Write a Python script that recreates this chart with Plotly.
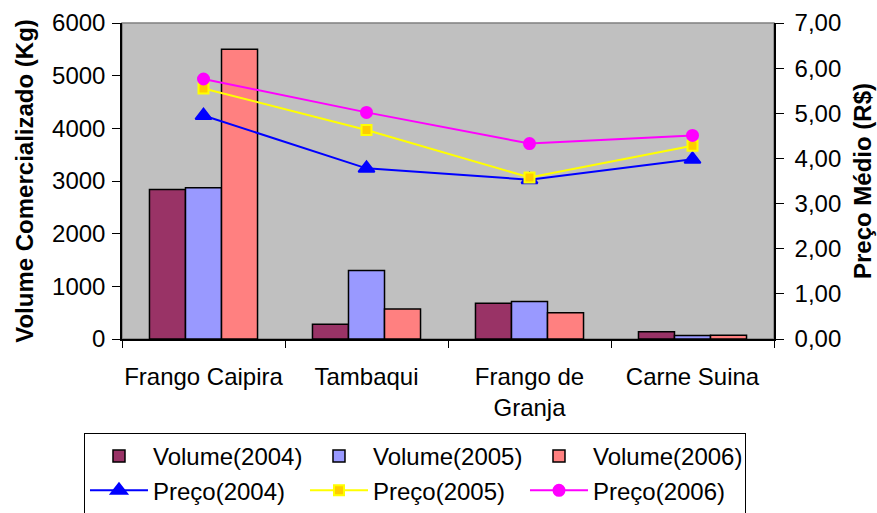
import plotly.graph_objects as go

# Categories and values
categorias = ["Frango Caipira", "Tambaqui", "Frango de<br>Granja", "Carne Suina"]

volume_2004 = [2840, 280, 680, 140]
volume_2005 = [2870, 1300, 710, 65]
volume_2006 = [5500, 570, 500, 70]

preco_2004 = [4.95, 3.78, 3.53, 3.98]
preco_2005 = [5.55, 4.63, 3.58, 4.28]
preco_2006 = [5.76, 5.02, 4.33, 4.51]

volume_ticks = [0, 1000, 2000, 3000, 4000, 5000, 6000]
preco_ticks = [0, 1, 2, 3, 4, 5, 6, 7]

FONT = "Liberation Sans, Arial, sans-serif"

fig = go.Figure()

bar_series = [
    ("Volume(2004)", volume_2004, "#993366"),
    ("Volume(2005)", volume_2005, "#9999FF"),
    ("Volume(2006)", volume_2006, "#FF8080"),
]
for nome, valores, cor in bar_series:
    fig.add_trace(go.Bar(
        x=categorias, y=valores, name=nome,
        marker=dict(color=cor, line=dict(color="black", width=1.5)),
        yaxis="y",
    ))

line_series = [
    ("Preço(2004)", preco_2004, "#0000FF", "triangle-up", "#0000FF", 14),
    ("Preço(2005)", preco_2005, "#FFFF00", "square", "#FFCC00", 10),
    ("Preço(2006)", preco_2006, "#FF00FF", "circle", "#FF00FF", 11),
]
for nome, valores, cor, simbolo, preenchimento, tamanho in line_series:
    fig.add_trace(go.Scatter(
        x=categorias, y=valores, name=nome, mode="lines+markers",
        line=dict(color=cor, width=2),
        marker=dict(symbol=simbolo, color=preenchimento, size=tamanho,
                    line=dict(color=cor, width=2)),
        yaxis="y2",
    ))

fig.update_layout(
    width=877, height=513,
    margin=dict(l=122, r=103, t=23, b=174, autoexpand=False),
    paper_bgcolor="white",
    plot_bgcolor="#C0C0C0",
    font=dict(family=FONT, size=24, color="black"),
    separators=",.",
    barmode="group",
    bargap=0.337,
    bargroupgap=0,
    showlegend=True,
    xaxis=dict(
        showline=True, linecolor="black", linewidth=1.5,
        ticks="outside", ticklen=7, tickcolor="black", tickwidth=1,
        tickson="boundaries",
        tickangle=0,
        tickfont=dict(size=24),
        ticklabelstandoff=15,
        showgrid=False,
    ),
    yaxis=dict(
        range=[0, 6000], tickvals=volume_ticks, tickformat="d",
        showline=True, linecolor="black", linewidth=1.5,
        ticks="outside", ticklen=8, tickcolor="black",
        ticklabelstandoff=2,
        showgrid=False, zeroline=False,
        tickfont=dict(size=24),
        title=dict(text="<b>Volume Comercializado (Kg)</b>",
                   font=dict(size=24), standoff=12),
    ),
    yaxis2=dict(
        range=[0, 7], tickvals=preco_ticks, tickformat=".2f",
        overlaying="y", side="right",
        showline=True, linecolor="black", linewidth=1.5,
        ticks="outside", ticklen=8, tickcolor="black",
        ticklabelstandoff=6,
        showgrid=False, zeroline=False,
        tickfont=dict(size=24),
        title=dict(text="<b>Preço Médio (R$)</b>",
                   font=dict(size=24), standoff=14),
    ),
    legend=dict(
        orientation="h",
        x=-0.0583, y=-0.2975, xanchor="left", yanchor="top",
        entrywidth=147, entrywidthmode="pixels",
        itemwidth=58,
        bgcolor="white", bordercolor="black", borderwidth=1,
        font=dict(size=24),
        traceorder="normal",
    ),
    shapes=[dict(
        type="rect", xref="paper", yref="paper", x0=0, y0=0, x1=1, y1=1,
        line=dict(color="#808080", width=1.5), layer="below",
    )],
)

fig.write_html("out.html")
